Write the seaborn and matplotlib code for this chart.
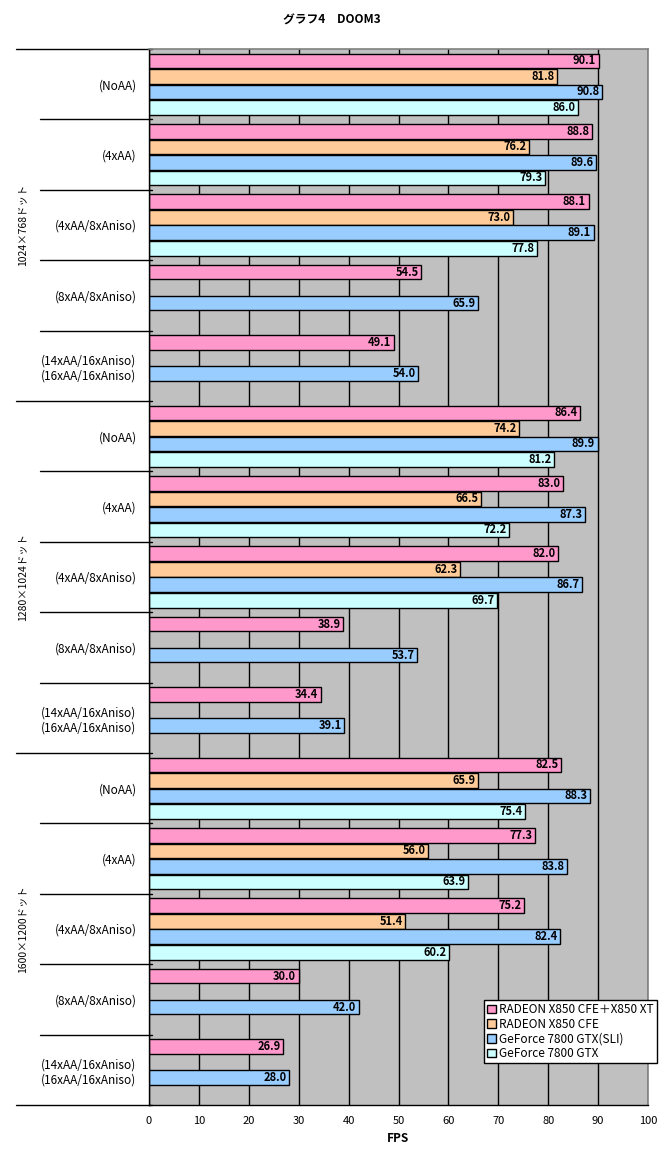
import seaborn as sns
import matplotlib.pyplot as plt
import matplotlib.transforms as mtransforms
import pandas as pd
import numpy as np

# data
resolutions = ['1024×768ドット', '1280×1024ドット', '1600×1200ドット']
settings = ['(NoAA)', '(4xAA)', '(4xAA/8xAniso)', '(8xAA/8xAniso)',
            '(14xAA/16xAniso)\n(16xAA/16xAniso)']
series = ['RADEON X850 CFE＋X850 XT', 'RADEON X850 CFE',
          'GeForce 7800 GTX(SLI)', 'GeForce 7800 GTX']
colors = ['#FF99CC', '#FFCC99', '#99CCFF', '#CCFFFF']

nan = np.nan
radeon_cf = [90.1, 88.8, 88.1, 54.5, 49.1,
             86.4, 83.0, 82.0, 38.9, 34.4,
             82.5, 77.3, 75.2, 30.0, 26.9]
radeon_single = [81.8, 76.2, 73.0, nan, nan,
                 74.2, 66.5, 62.3, nan, nan,
                 65.9, 56.0, 51.4, nan, nan]
geforce_sli = [90.8, 89.6, 89.1, 65.9, 54.0,
               89.9, 87.3, 86.7, 53.7, 39.1,
               88.3, 83.8, 82.4, 42.0, 28.0]
geforce_single = [86.0, 79.3, 77.8, nan, nan,
                  81.2, 72.2, 69.7, nan, nan,
                  75.4, 63.9, 60.2, nan, nan]

groups = [r + '|' + s for r in resolutions for s in settings]
rows = []
for name, vals in zip(series, [radeon_cf, radeon_single, geforce_sli, geforce_single]):
    for g, v in zip(groups, vals):
        rows.append({'group': g, 'series': name, 'fps': v})
df = pd.DataFrame(rows)

sns.set_style('white')
plt.rcParams['font.family'] = ['Noto Sans CJK JP', 'DejaVu Sans']
for key in ['text.color', 'axes.labelcolor', 'xtick.color', 'ytick.color']:
    plt.rcParams[key] = 'black'

fig = plt.figure(figsize=(6.64, 11.54), dpi=100)
ax = fig.add_axes([149 / 664, 1 - 1105 / 1154, 499 / 664, (1105 - 49) / 1154])
ax.set_facecolor('#C0C0C0')

sns.barplot(data=df, y='group', x='fps', hue='series', order=groups,
            hue_order=series, palette=colors, saturation=1, orient='h',
            width=0.88, gap=0.06, edgecolor='black', linewidth=1, ax=ax)

ax.set_xlim(0, 100)
ax.set_xticks(range(0, 101, 10))
ax.grid(axis='x', color='black', linewidth=1)
ax.set_axisbelow(True)
ax.tick_params(axis='x', length=0, pad=8, labelsize=8)
ax.tick_params(axis='y', length=0, pad=9, labelsize=8.5)
ax.set_yticks(range(len(groups)))
ax.set_yticklabels([g.split('|')[1] for g in groups])
ax.set_ylabel('')
ax.set_xlabel('FPS', fontweight='bold', fontsize=8.5, labelpad=4)

for side in ['left', 'bottom']:
    ax.spines[side].set_color('black')
    ax.spines[side].set_linewidth(1)
for side in ['top', 'right']:
    ax.spines[side].set_color('#808080')
    ax.spines[side].set_linewidth(1.2)

# value labels at the end of each bar
for cont in ax.containers:
    for bar in cont:
        w = bar.get_width()
        if np.isnan(w) or w == 0:
            continue
        ax.text(w - 0.5, bar.get_y() + bar.get_height() / 2, f'{w:.1f}',
                ha='right', va='center', fontsize=8, fontweight='bold')

# group divider lines on the left
trans = mtransforms.blended_transform_factory(ax.transAxes, ax.transData)
for i in range(len(groups) + 1):
    start = (16 - 149) / 499 if i % 5 == 0 else (40 - 149) / 499
    ax.plot([start, 3 / 499], [i - 0.5, i - 0.5], color='black', lw=1,
            transform=trans, clip_on=False)

# resolution labels
for k, res in enumerate(resolutions):
    ax.text((22 - 149) / 499, k * 5 + 2, res, rotation=90, ha='center',
            va='center', fontsize=7.5, transform=trans)

ax.set_ylim(len(groups) - 0.5, -0.5)

fig.text(0.5, 1 - 20 / 1154, 'グラフ4　DOOM3', ha='center', va='center',
         fontsize=8.5, fontweight='bold')

sns.move_legend(ax, loc='upper right', bbox_to_anchor=(657 / 664, 1 - 1000 / 1154),
                bbox_transform=fig.transFigure, title=None, frameon=True,
                fancybox=False, fontsize=8.5, handlelength=0.75, handleheight=0.75,
                handletextpad=0.3, borderpad=0.25, labelspacing=0.15,
                borderaxespad=0, edgecolor='black', framealpha=1)
ax.get_legend().get_frame().set_linewidth(1)

fig.savefig('out.png', dpi=100)
